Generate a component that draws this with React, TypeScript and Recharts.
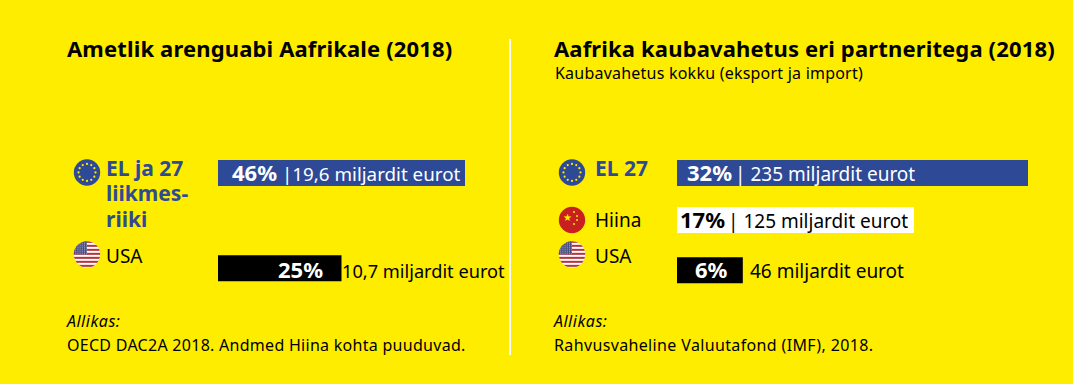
import { BarChart, Bar, XAxis, YAxis, Cell, LabelList, Rectangle } from 'recharts'

const YELLOW = '#ffed00'
const BLUE = '#2e4a96'
const FONT = '"Noto Sans", sans-serif'

// left panel: official development aid. China has no data
const leftCategories = ['EL', 'Hiina', 'USA']
const leftShare = [46, null, 23] // drawn bar length, the 25% bar is drawn a bit short in the source
const leftPercent = ['46%', '', '25%']
const leftAmount = ['|19,6 miljardit eurot', '', '10,7 miljardit eurot']

// right panel: trade. the white bar is drawn wider than its 17%
const rightCategories = ['EL', 'Hiina', 'USA']
const rightShare = [32, 21.6, 6]
const rightPercent = ['32%', '17%', '6%']
const rightAmount = ['| 235 miljardit eurot', '| 125 miljardit eurot', '46 miljardit eurot']

const leftNames: Record<string, string[]> = { EL: ['EL ja 27', 'liikmes-', 'riiki'], USA: ['USA'] }
const rightNames: Record<string, string[]> = { EL: ['EL 27'], Hiina: ['Hiina'], USA: ['USA'] }

const barColors = [BLUE, '#ffffff', '#000000']
const percentColors = ['#ffffff', '#000000', '#ffffff']
const amountColors = ['#ffffff', '#000000', '#000000']

const leftData = leftCategories.map((name, i) => ({ name, share: leftShare[i], percent: leftPercent[i], amount: leftAmount[i] }))
const rightData = rightCategories.map((name, i) => ({ name, share: rightShare[i], percent: rightPercent[i], amount: rightAmount[i] }))

// flags and names sit higher than the bars on the USA row
const flagShift: Record<string, number> = { EL: -0.7, Hiina: -1.5, USA: -15.5 }
const nameShift: Record<string, number> = { EL: 3.5, Hiina: 7, USA: 9 }
// rows in the source are not evenly spaced
const rowNudge = [0, -1.3, 0.5]

function EuFlag({ cx, cy }: { cx: number; cy: number }) {
  const stars = Array.from({ length: 12 }, (_, i) => i * Math.PI / 6)
  return (
    <g>
      <circle cx={cx} cy={cy} r={13.2} fill={BLUE} />
      {stars.map((a) => (
        <circle key={a} cx={cx + Math.cos(a) * 8.5} cy={cy + Math.sin(a) * 8.5} r={1.1} fill={YELLOW} />
      ))}
    </g>
  )
}

function ChinaFlag({ cx, cy }: { cx: number; cy: number }) {
  return (
    <g>
      <circle cx={cx} cy={cy} r={13.2} fill="#c8201f" />
      <text x={cx - 5} y={cy + 0.5} fontSize={10} fill={YELLOW} textAnchor="middle">★</text>
      {[[2, -8], [5, -4], [5, 0], [2, 4]].map(([dx, dy]) => (
        <circle key={dy} cx={cx + dx} cy={cy + dy} r={1} fill={YELLOW} />
      ))}
    </g>
  )
}

function UsaFlag({ cx, cy, id }: { cx: number; cy: number; id: string }) {
  const stripes = [0, 1, 2, 3, 4, 5, 6]
  return (
    <g>
      <clipPath id={id}><circle cx={cx} cy={cy} r={13.2} /></clipPath>
      <g clipPath={`url(#${id})`}>
        <rect x={cx - 14} y={cy - 14} width={28} height={28} fill="#ffffff" />
        {stripes.map((s) => (
          <rect key={s} x={cx - 14} y={cy - 13.5 + s * 4} width={28} height={2} fill="#b8323a" />
        ))}
        <rect x={cx - 14} y={cy - 14} width={14} height={14} fill="#4a4f80" />
        {stripes.map((s) => (
          <line key={s} x1={cx - 14} x2={cx} y1={cy - 12.5 + s * 2} y2={cy - 12.5 + s * 2} stroke="#d8dbe8" strokeWidth={0.7} strokeDasharray="1 1.2" />
        ))}
      </g>
    </g>
  )
}

const CountryTick = ({ y, payload, flagX, textX, names, chartId }: any) => {
  const name = payload.value
  const lines = names[name]
  if (!lines) return null
  const cy = y + flagShift[name]
  const isEu = name === 'EL'
  return (
    <g>
      {name === 'EL' && <EuFlag cx={flagX} cy={cy} />}
      {name === 'Hiina' && <ChinaFlag cx={flagX} cy={cy} />}
      {name === 'USA' && <UsaFlag cx={flagX} cy={cy} id={`usa-${chartId}`} />}
      {lines.map((line: string, i: number) => (
        <text key={line} x={textX} y={cy + nameShift[name] + i * 25.5} fontFamily={FONT} fontSize={isEu ? 21 : 19}
          fontWeight={isEu ? 700 : 400} fill={isEu ? BLUE : '#000000'}>
          {line}
        </text>
      ))}
    </g>
  )
}

function Panel({ data, domainMax, axisWidth, names, flagX, textX, percentX, amountX, amountSize, chartId }: any) {
  // LabelList skips the empty row, so look the row up by its text
  const rowOf = (key: string, value: string) => data.findIndex((d: any) => d[key] === value)
  return (
    <BarChart layout="vertical" width={chartId === 'left' ? 510 : 563} height={384} data={data}
      margin={{ top: 149, right: 45, bottom: 90, left: 0 }}>
      <XAxis type="number" domain={[0, domainMax]} hide />
      <YAxis type="category" dataKey="name" width={axisWidth} axisLine={false} tickLine={false} interval={0}
        tick={(p: any) => <CountryTick {...p} flagX={flagX} textX={textX} names={names} chartId={chartId} />} />
      <Bar dataKey="share" barSize={26} isAnimationActive={false}
        shape={(p: any) => <Rectangle {...p} y={p.y + rowNudge[p.index]} />}>
        {data.map((d: any, i: number) => <Cell key={d.name} fill={barColors[i]} />)}
        <LabelList dataKey="percent" content={(p: any) => {
          const row = rowOf('percent', p.value)
          return p.value ? (
            <text x={axisWidth + percentX[row]} y={p.y + 20.5 + rowNudge[row]} fontFamily={FONT} fontSize={22} fontWeight={700}
              fill={percentColors[row]}>{p.value}</text>
          ) : null
        }} />
        <LabelList dataKey="amount" content={(p: any) => {
          const row = rowOf('amount', p.value)
          return p.value ? (
            <text x={axisWidth + amountX[row]} y={p.y + 20.5 + rowNudge[row]} fontFamily={FONT} fontSize={amountSize[row]}
              fill={amountColors[row]}>{p.value}</text>
          ) : null
        }} />
      </Bar>
    </BarChart>
  )
}

const noteStyle = { position: 'absolute', fontSize: 16, whiteSpace: 'nowrap', lineHeight: '20px', letterSpacing: 0.28 } as const
const titleStyle = { position: 'absolute', fontSize: 22, fontWeight: 700, whiteSpace: 'nowrap', lineHeight: '26px', letterSpacing: 0.15 } as const

export default function App() {
  return (
    <div style={{ position: 'absolute', left: 0, top: 0, width: 1073, height: 384, background: YELLOW, fontFamily: FONT, color: '#000', overflow: 'hidden' }}>
      <div style={{ ...titleStyle, left: 67, top: 35 }}>Ametlik arenguabi Aafrikale (2018)</div>
      <div style={{ ...titleStyle, left: 554, top: 35 }}>Aafrika kaubavahetus eri partneritega (2018)</div>
      <div style={{ ...noteStyle, left: 555, top: 63, letterSpacing: 0.22 }}>Kaubavahetus kokku (eksport ja import)</div>

      <div style={{ position: 'absolute', left: 0, top: 0 }}>
        <Panel data={leftData} domainMax={46} axisWidth={218} names={leftNames} flagX={87} textX={106}
          percentX={[14, 0, 60]} amountX={[64, 0, 124]} amountSize={[18.8, 18.8, 18.2]} chartId="left" />
      </div>
      <div style={{ position: 'absolute', left: 510, top: 0 }}>
        <Panel data={rightData} domainMax={32} axisWidth={167} names={rightNames} flagX={62} textX={85}
          percentX={[10, 3, 18]} amountX={[58, 51, 73]} amountSize={[19, 19, 19]} chartId="right" />
      </div>

      <div style={{ position: 'absolute', left: 509, top: 39, width: 2, height: 316, background: '#ffffff' }} />

      <div style={{ ...noteStyle, left: 67, top: 311, fontStyle: 'italic', letterSpacing: 0.5 }}>Allikas:</div>
      <div style={{ ...noteStyle, left: 67, top: 335 }}>OECD DAC2A 2018. Andmed Hiina kohta puuduvad.</div>
      <div style={{ ...noteStyle, left: 554, top: 311, fontStyle: 'italic', letterSpacing: 0.5 }}>Allikas:</div>
      <div style={{ ...noteStyle, left: 554, top: 335, letterSpacing: 0.36 }}>Rahvusvaheline Valuutafond (IMF), 2018.</div>
    </div>
  )
}
